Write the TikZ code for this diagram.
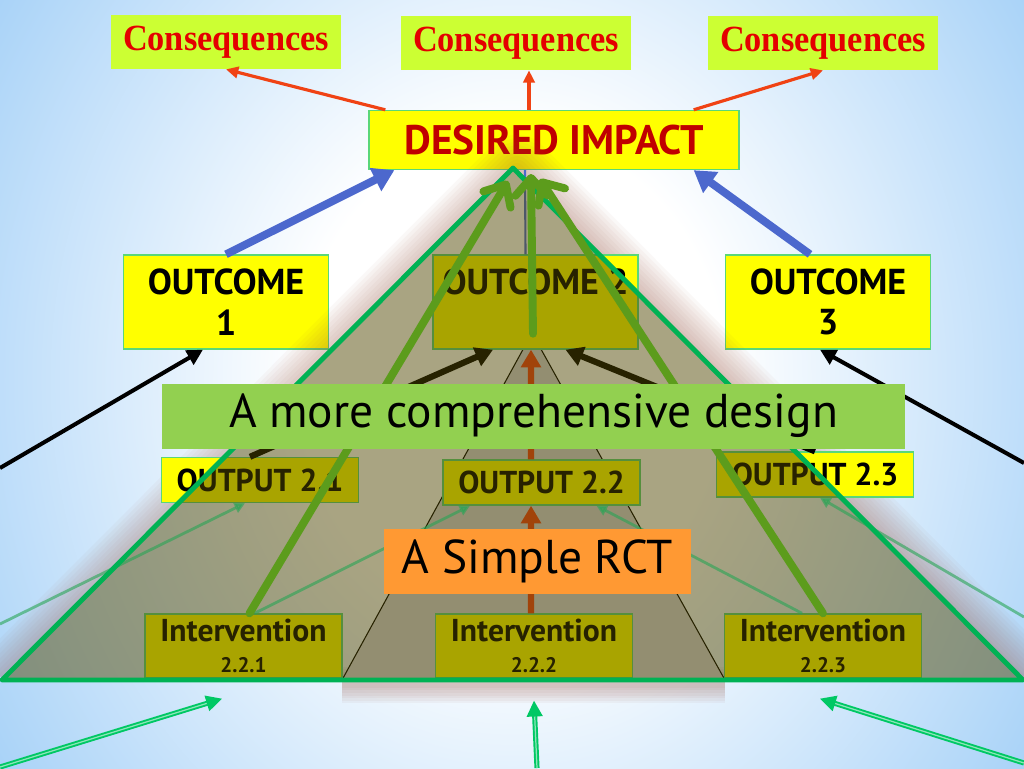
\documentclass[tikz,border=0pt]{standalone}
\usepackage{fontspec}
\usetikzlibrary{arrows.meta}

\newfontfamily\consfont[FakeStretch=0.93]{Liberation Serif}
\newfontfamily\labelfont{PT Sans}

\definecolor{skyblue}{RGB}{148,200,246}
\definecolor{consyellow}{RGB}{204,255,51}
\definecolor{consred}{RGB}{228,0,0}
\definecolor{impactred}{RGB}{192,0,0}
\definecolor{boxyellow}{RGB}{255,255,0}
\definecolor{boxborder}{RGB}{90,215,120}
\definecolor{arrowred}{RGB}{240,66,20}
\definecolor{arrowblue}{RGB}{76,104,205}
\definecolor{veil}{RGB}{80,70,0}
\definecolor{innergray}{RGB}{212,212,222}
\definecolor{glowbrown}{RGB}{150,80,60}
\definecolor{outlinegreen}{RGB}{0,178,84}
\definecolor{leafgreen}{RGB}{92,156,28}
\definecolor{faintgreen}{RGB}{40,165,85}
\definecolor{brightgreen}{RGB}{0,200,100}
\definecolor{bannergreen}{RGB}{146,208,80}
\definecolor{rctorange}{RGB}{255,153,51}

\pgfdeclareradialshading{skyglow}{\pgfpoint{0bp}{0bp}}{color(0bp)=(white); color(9bp)=(white); color(30bp)=(skyblue); color(50bp)=(skyblue)}

\begin{document}
\begin{tikzpicture}[
  x=0.02cm, y=-0.02cm,
  consbox/.style={rectangle, fill=consyellow, inner sep=0pt, minimum width=4.62cm, minimum height=1.08cm, text=consred, font=\consfont\bfseries\fontsize{21}{24}\selectfont},
  yellowbox/.style={rectangle, draw=boxborder, line width=0.8pt, fill=boxyellow, inner sep=0pt, align=center},
  outcome/.style={yellowbox, minimum width=4.1cm, minimum height=1.88cm, font=\labelfont\bfseries\fontsize{20.5}{23}\selectfont},
  output/.style={yellowbox, minimum width=3.94cm, minimum height=0.9cm, font=\labelfont\bfseries\fontsize{18}{20}\selectfont},
  interv/.style={yellowbox, minimum width=3.94cm, minimum height=1.28cm, font=\labelfont\bfseries\fontsize{18}{18}\selectfont},
  banner/.style={rectangle, inner sep=0pt, font=\labelfont\fontsize{27}{30}\selectfont},
  redarrow/.style={-{Triangle[length=7pt,width=6.5pt]}, draw=arrowred, line width=1.8pt},
  bluearrow/.style={-{Triangle[length=12pt,width=14pt]}, draw=arrowblue, line width=4.5pt},
  blackarrow/.style={-{Triangle[length=9pt,width=9pt]}, line width=2.3pt},
  innerarrow/.style={-{Triangle[length=10pt,width=11pt]}, line width=3.5pt},
  greenarrow/.style={-{Straight Barb[length=10pt,width=18pt,round]}, draw=leafgreen, line width=4.5pt, line cap=round},
  faintarrow/.style={-{Triangle[length=6pt,width=6pt]}, draw=faintgreen, line width=1.6pt, opacity=0.6},
  feedarrow/.style={-{Triangle[length=9pt,width=9pt]}, draw=brightgreen, line width=1.1pt, double=white!55!brightgreen, double distance=0.7pt}
]

% Background
\useasboundingbox (0,0) rectangle (1024,768);
\clip (0,0) rectangle (1024,768);
\shade[shading=skyglow] (-80,-300) rectangle (1104,1060);

% Consequences
\node[consbox] (cons1) at (226,42) {Consequences};
\node[consbox] (cons2) at (516,43) {Consequences};
\node[consbox] (cons3) at (823,43) {Consequences};

% Desired impact
\node[yellowbox, minimum width=7.4cm, minimum height=1.18cm, text=impactred, font=\labelfont\bfseries\fontsize{23.5}{26}\selectfont] (impact) at (554,140) {DESIRED IMPACT};

\draw[redarrow] ([xshift=0.34cm]impact.north west) -- (cons1.south);
\draw[redarrow] ([xshift=-0.5cm]impact.north) -- ([xshift=-0.5cm]impact.north |- cons2.south);
\draw[redarrow] ([xshift=-0.92cm]impact.north east) -- (cons3.south);

% Outcomes
\node[outcome] (out1) at (226,302) {OUTCOME\\1};
\node[outcome] (out3) at (828,302) {OUTCOME\\3};

\draw[bluearrow] (out1.north) -- ([xshift=0.52cm]impact.south west);
\draw[bluearrow] ([xshift=-0.36cm]out3.north) -- ([xshift=-0.92cm]impact.south east);

\coordinate (leftin) at (0,468);
\coordinate (rightin) at (1024,463);
\draw[blackarrow] (leftin) -- ([xshift=-0.46cm]out1.south);
\draw[blackarrow] (rightin) -- ([xshift=-0.16cm]out3.south);

% Glow round the big triangle
\coordinate (apex) at (513,168);
\coordinate (baseL) at (2,680);
\coordinate (baseR) at (1023,680);
\coordinate (rctapex) at (532,333);
\coordinate (rctL) at (342,680);
\coordinate (rctR) at (725,680);
\begin{scope}[even odd rule]
  \clip (0,0) rectangle (1024,681) (apex) -- (baseR) -- (baseL) -- cycle;
  \foreach \w in {4,8,...,40}
    \draw[glowbrown, opacity=0.04, line width=\w pt, line join=round] ([shift={(4,2)}]baseL) -- ([shift={(4,2)}]apex) -- ([shift={(4,2)}]baseR);
\end{scope}
\foreach \w in {3,6,...,21}
  \draw[glowbrown, opacity=0.05, line width=\w pt] (rctL |- 0,685) -- (rctR |- 0,685);

% Simple RCT wedge
\filldraw[fill=innergray, draw=black, line width=0.6pt] (rctapex) -- (rctR) -- (rctL) -- cycle;

% Boxes inside the triangle
\node[outcome] (out2) at (535.5,302) {OUTCOME 2\\\phantom{2}};
\node[output] (op1) at (260,480) {OUTPUT 2.1};
\node[output] (op2) at (541.5,482.5) {OUTPUT 2.2};
\node[output] (op3) at (815,474.5) {OUTPUT 2.3};
\node[interv] (iv1) at (243.5,646) {Intervention\\{\fontsize{12}{13}\selectfont 2.2.1}};
\node[interv] (iv2) at (534,646) {Intervention\\{\fontsize{12}{13}\selectfont 2.2.2}};
\node[interv] (iv3) at (823,646) {Intervention\\{\fontsize{12}{13}\selectfont 2.2.3}};

\draw[arrowblue, line width=1.2pt] ([xshift=-0.2cm]out2.north) -- ([xshift=-0.58cm]impact.south);
\draw[innerarrow] ([xshift=-0.2cm]op1.north) -- ([xshift=-0.85cm]out2.south);
\draw[innerarrow] (op3.north) -- ([xshift=0.6cm]out2.south);
\draw[innerarrow, draw=arrowred] ([xshift=-0.06cm]iv2.north) -- ([xshift=-0.21cm]op2.south);
\draw[innerarrow, draw=arrowred] ([xshift=-0.21cm]op2.north) -- ([xshift=-0.09cm]out2.south);

% Veil of the big triangle
\fill[veil, opacity=0.49] (apex) -- (baseR) -- (baseL) -- cycle;

% Faint links
\coordinate (faintL) at (0,624);
\coordinate (faintR) at (1024,617);
\draw[faintarrow] (faintL) -- ([xshift=-0.3cm]op1.south);
\draw[faintarrow] ([xshift=0.22cm]iv1.north) -- ([xshift=-1.43cm]op2.south);
\draw[faintarrow] ([xshift=-0.42cm]iv3.north) -- ([xshift=1.1cm]op2.south);
\draw[faintarrow] (faintR) -- ([xshift=0.1cm]op3.south);

% Outline and long green arrows
\draw[outlinegreen, line width=2.8pt, line join=round] (apex) -- (baseR) -- (baseL) -- cycle;
\coordinate (tipL) at (508,181);
\coordinate (tipM) at (531,174);
\coordinate (tipR) at (540,179);
\draw[greenarrow] ([xshift=0.12cm]iv1.north) -- (tipL);
\draw[greenarrow] ([xshift=-0.05cm,yshift=0.32cm]out2.south) -- (tipM);
\draw[greenarrow] (iv3.north) -- (tipR);

% Labels
\node[banner, fill=bannergreen, minimum width=14.86cm, minimum height=1.3cm] (design) at (533.5,416) {A more comprehensive design};
\node[banner, fill=rctorange, minimum width=6.14cm, minimum height=1.3cm] (rct) at (537.5,561.5) {A Simple RCT};

% Inputs from below
\coordinate (feedL) at (0,767);
\coordinate (feedM) at (537,768);
\coordinate (feedR) at (1024,763);
\draw[feedarrow] (feedL) -- ([xshift=-0.43cm,yshift=-0.4cm]iv1.south);
\draw[feedarrow] (feedM) -- ([yshift=-0.44cm]iv2.south);
\draw[feedarrow] (feedR) -- ([xshift=-0.06cm,yshift=-0.4cm]iv3.south);

\end{tikzpicture}
\end{document}
